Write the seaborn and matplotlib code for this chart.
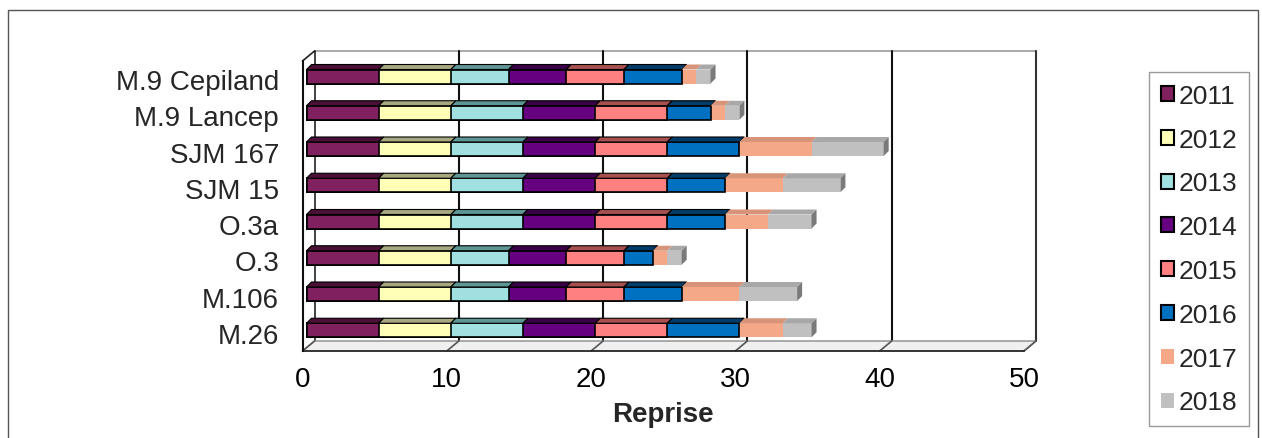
import numpy as np
import pandas as pd
import matplotlib
matplotlib.use("Agg")
import matplotlib.pyplot as plt
from matplotlib.patches import Rectangle, Polygon, Patch
import seaborn as sns

# ---------------- data ----------------
categories = ["M.9 Cepiland", "M.9 Lancep", "SJM 167", "SJM 15", "O.3a", "O.3", "M.106", "M.26"]
years = ["2011", "2012", "2013", "2014", "2015", "2016", "2017", "2018"]
v2011 = [5, 5, 5, 5, 5, 5, 5, 5]
v2012 = [5, 5, 5, 5, 5, 5, 5, 5]
v2013 = [4, 5, 5, 5, 5, 4, 4, 5]
v2014 = [4, 5, 5, 5, 5, 4, 4, 5]
v2015 = [4, 5, 5, 5, 5, 4, 4, 5]
v2016 = [4, 3, 5, 4, 4, 2, 4, 5]
v2017 = [1, 1, 5, 4, 3, 1, 4, 3]
v2018 = [1, 1, 5, 4, 3, 1, 4, 2]
series = [v2011, v2012, v2013, v2014, v2015, v2016, v2017, v2018]
x_ticks = [0, 10, 20, 30, 40, 50]
x_label = "Reprise"

# ---------------- styles ----------------
colors = ["#80205F", "#FFFFB8", "#A0E0E0", "#660080", "#FF8080", "#0070C0", "#F4A888", "#C0C0C0"]
top_colors = ["#4A1036", "#A8A880", "#5E9696", "#3A0048", "#A85050", "#003C6A", "#D89478", "#A8A8A8"]
edged = [True, True, True, True, True, True, False, False]

W, H = 1262, 439
fig = plt.figure(figsize=(W / 100, H / 100), dpi=100)
sns.set_style("white")
plt.rcParams["font.family"] = ["Liberation Sans", "DejaVu Sans"]
FS = 20

# front frame in pixels
x0p, x50p = 302.5, 1024.0
ytop_p, ybot_p = 62.0, 352.0
ax = fig.add_axes([x0p / W, 1 - ybot_p / H, (x50p - x0p) / W, (ybot_p - ytop_p) / H])
ax.set_facecolor("none")

pxx = (x50p - x0p) / 50.0          # px per x unit
pxy = 36.25                        # px per category slot
bar_c0 = 77.5                      # pixel y of first bar centre
ylim_top = (ytop_p - bar_c0) / pxy
ylim_bot = (ybot_p - bar_c0) / pxy

# depth vectors (data units)
Dx, Dy = 12 / pxx, -10 / pxy       # full depth of frame
bdx, bdy = 5 / pxx, -5 / pxy       # bar depth
shift = 4 / pxx                    # bar offset from front
bh = 14 / pxy                      # bar front height

# ---------- frame: back wall, floor, left wall ----------
n = len(categories)
back = Rectangle((Dx, ylim_top + Dy), 50, ylim_bot - ylim_top, facecolor="white",
                 edgecolor="none", zorder=0, clip_on=False)
ax.add_patch(back)
ax.plot([Dx, 50 + Dx], [ylim_top + Dy] * 2, color="#9a9a9a", lw=1.2, clip_on=False, zorder=1)
ax.plot([50 + Dx] * 2, [ylim_top + Dy, ylim_bot + Dy], color="#333333", lw=1.5, clip_on=False, zorder=1)
ax.plot([Dx] * 2, [ylim_top + Dy, ylim_bot + Dy], color="#222222", lw=1.2, clip_on=False, zorder=1)
for t in x_ticks[1:-1]:
    ax.plot([t + Dx] * 2, [ylim_top + Dy, ylim_bot + Dy], color="#111111", lw=1.5, clip_on=False, zorder=1)
floor = Polygon([(0, ylim_bot), (50, ylim_bot), (50 + Dx, ylim_bot + Dy), (Dx, ylim_bot + Dy)],
                closed=True, facecolor="#f0f0f0", edgecolor="#8a8a8a", lw=1.0, clip_on=False, zorder=1)
ax.add_patch(floor)
for t in x_ticks:
    ax.plot([t, t + Dx], [ylim_bot, ylim_bot + Dy], color="#555555", lw=1.2, clip_on=False, zorder=1.5)
ax.plot([0, Dx], [ylim_top, ylim_top + Dy], color="#222222", lw=1.2, clip_on=False, zorder=1)

# ---------- bars (cumulative, drawn largest first) ----------
arr = np.array(series, dtype=float)
cum = np.cumsum(arr, axis=0)
df = pd.DataFrame({"cat": categories})
for k in range(len(years) - 1, -1, -1):
    df["val"] = cum[k]
    sns.barplot(data=df, x="val", y="cat", order=categories, orient="h", color=colors[k],
                width=bh, left=shift, edgecolor="black" if edged[k] else colors[k],
                linewidth=1.2 if edged[k] else 0, ax=ax, zorder=3, saturation=1)

# top faces and right side faces
for i in range(n):
    yt = i - bh / 2
    for k in range(len(years)):
        l = cum[k, i] - arr[k, i] + shift
        r = cum[k, i] + shift
        poly = Polygon([(l, yt), (l + bdx, yt + bdy), (r + bdx, yt + bdy), (r, yt)], closed=True,
                       facecolor=top_colors[k], edgecolor="black" if edged[k] else "none",
                       lw=0.8, zorder=4, clip_on=False)
        ax.add_patch(poly)
    r = cum[-1, i] + shift
    side = Polygon([(r, yt), (r + bdx, yt + bdy), (r + bdx, yt + bh + bdy), (r, yt + bh)], closed=True,
                   facecolor="#7a7a7a", edgecolor="none", zorder=4, clip_on=False)
    ax.add_patch(side)

# ---------- axes ----------
ax.set_xlim(0, 50)
ax.set_ylim(ylim_bot, ylim_top)
for s in ["top", "right"]:
    ax.spines[s].set_visible(False)
ax.spines["left"].set_color("#111111")
ax.spines["left"].set_linewidth(1.5)
ax.spines["bottom"].set_color("#222222")
ax.spines["bottom"].set_linewidth(1.2)
ax.spines["left"].set_zorder(5)

ax.set_xticks(x_ticks)
ax.set_xticklabels([str(t) for t in x_ticks], fontsize=FS)
ax.tick_params(axis="x", direction="out", length=4.5, width=1.0, pad=6, colors="black")
ax.set_xlabel(x_label, fontsize=FS, fontweight="bold", labelpad=7)

centres = [ylim_top + 0.5 + i for i in range(n)]
ax.set_yticks(centres)
ax.set_yticklabels(categories, fontsize=FS)
ax.tick_params(axis="y", which="major", length=0, pad=17)
ax.set_yticks([ylim_top + i for i in range(n + 1)], minor=True)
ax.tick_params(axis="y", which="minor", direction="out", length=4.5, width=1.0, color="black")
ax.set_ylabel("")
ax.grid(False)

# ---------- legend ----------
handles = [Patch(facecolor=colors[k], edgecolor="black" if edged[k] else colors[k],
                 linewidth=1.5 if edged[k] else 0) for k in range(len(years))]
leg = fig.legend(handles, years, loc="upper left",
                 bbox_to_anchor=(1149 / W, 1 - 73 / H), bbox_transform=fig.transFigure,
                 fontsize=19, frameon=True, fancybox=False, handlelength=0.5, handleheight=0.5,
                 handletextpad=0.18, labelspacing=0.75, borderpad=0.45, borderaxespad=0)
leg.get_frame().set_edgecolor("#808080")
leg.get_frame().set_linewidth(1.0)

# outer border
fig.patches.append(Rectangle((8 / W, -0.05), (1258 - 8) / W, 1.05 - 11 / H, transform=fig.transFigure,
                             fill=False, edgecolor="#555555", lw=1.0))

fig.savefig("out.png", dpi=100)
